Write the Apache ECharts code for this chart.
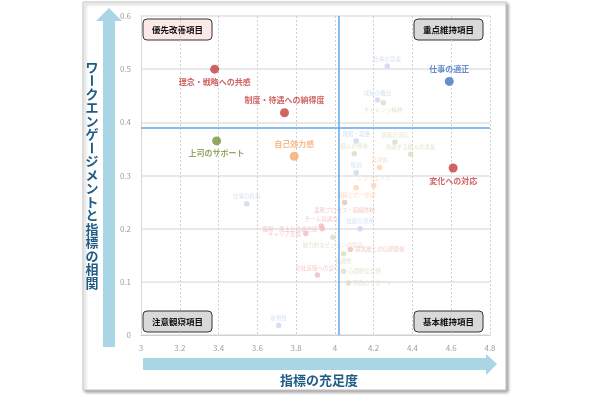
<!DOCTYPE html>
<html>
<head>
<meta charset="utf-8">
<script src="https://cdn.jsdelivr.net/npm/echarts@6/dist/echarts.min.js"></script>
<style>
  html, body { margin: 0; padding: 0; background: #fff; }
  #chart { width: 610px; height: 396px; }
</style>
</head>
<body>
<div id="chart"></div>
<script>
// 指標データ（充足度, 相関）
const names = [
  '理念・戦略への共感', '制度・待遇への納得度', '上司のサポート', '自己効力感', '仕事の適正', '変化への対応',
  '仕事の意義', '成長の機会', 'チャレンジ精神', '権限・裁量', '個人の尊重', '部署の活気',
  '共感する個人の成長', '役割', '自律性', 'レジリエンス', '組織との一体感', '業務プロセス・組織体制',
  '技能の活用', 'チーム協調力', '職場・風土との適合感', 'キャリア形成', '魅力的なビジョンの提示',
  '経営層との信頼関係', '協調性', '心理的安全性', '同僚のサポート', '会社基盤への安心', '仕事の負担', '新規性'
];
const fulfillment = [
  3.38, 3.74, 3.39, 3.79, 4.59, 4.61,
  4.27, 4.22, 4.25, 4.11, 4.10, 4.31,
  4.39, 4.11, 4.23, 4.20, 4.11, 4.05,
  4.13, 3.93, 3.935, 3.85, 3.99,
  4.08, 4.045, 4.045, 4.07, 3.91, 3.545, 3.71
];
const correlation = [
  0.500, 0.418, 0.365, 0.336, 0.477, 0.314,
  0.506, 0.442, 0.437, 0.365, 0.341, 0.363,
  0.340, 0.305, 0.315, 0.281, 0.277, 0.249,
  0.200, 0.205, 0.200, 0.191, 0.184,
  0.161, 0.153, 0.120, 0.098, 0.113, 0.247, 0.018
];
// 区分: 組織 / 仕事 / 上司 / 個人
const groups = [
  '組織', '組織', '上司', '個人', '仕事', '組織',
  '仕事', '仕事', '上司', '仕事', '上司', '上司',
  '上司', '仕事', '個人', '個人', '個人', '組織',
  '仕事', '組織', '組織', '組織', '上司',
  '組織', '上司', '上司', '上司', '組織', '仕事', '仕事'
];
const highlighted = ['理念・戦略への共感', '制度・待遇への納得度', '上司のサポート', '自己効力感', '仕事の適正', '変化への対応'];
const meanX = [4.02];
const meanY = [0.385];
const xTicks = { min: 3, max: 4.8, step: 0.2 };
const yTicks = { min: 0, max: 0.6, step: 0.1 };
const quadrantLabels = ['優先改善項目', '重点維持項目', '注意観察項目', '基本維持項目'];
const xTitle = '指標の充足度';
const yTitle = 'ワークエンゲージメントと指標の相関';

// スタイル
const FONT = '"Noto Sans CJK JP", "Noto Sans", sans-serif';
const TITLE_COLOR = '#1f5c85';
const ARROW_COLOR = '#a9d6e5';
const strongColor = { '組織': '#c43c3c', '仕事': '#4472c4', '上司': '#76923c', '個人': '#f7a86a' };
const fadedColor = { '組織': '#f1bcbc', '仕事': '#c9d7ef', '上司': '#d8e0c2', '個人': '#fcd3b4' };
const labelPos = {
  '理念・戦略への共感': 'bottom', '制度・待遇への納得度': 'top', '上司のサポート': 'bottom',
  '自己効力感': 'top', '仕事の適正': 'top', '変化への対応': 'bottom',
  'チャレンジ精神': 'bottom', '組織との一体感': 'bottom', '業務プロセス・組織体制': 'bottom',
  '職場・風土との適合感': 'left', 'キャリア形成': 'left', '魅力的なビジョンの提示': 'bottom',
  '経営層との信頼関係': 'right', '協調性': 'bottom', '心理的安全性': 'right', '同僚のサポート': 'right'
};

const mainData = [];
const subData = [];
names.forEach((n, i) => {
  const strong = highlighted.includes(n);
  const c = strong ? strongColor[groups[i]] : fadedColor[groups[i]];
  const item = {
    name: n,
    value: [fulfillment[i], correlation[i]],
    itemStyle: { color: c },
    label: {
      show: true,
      formatter: '{b}',
      position: labelPos[n] || 'top',
      distance: strong ? 4 : 2,
      color: c,
      fontFamily: FONT,
      fontSize: strong ? 8 : 5.5,
      fontWeight: strong ? 'bold' : 'normal',
      offset: n === '協調性' ? [5, 0] : [0, 0]
    }
  };
  (strong ? mainData : subData).push(item);
});

// 縦書きタイトル（長音は回転）
const yTitleChars = Array.from(yTitle).map((ch, i) => ({
  type: 'text',
  x: 92,
  y: 67 + i * 13.5,
  rotation: ch === 'ー' ? -Math.PI / 2 : 0,
  style: { text: ch, font: 'bold 13px ' + FONT, fill: TITLE_COLOR, align: 'center', verticalAlign: 'middle' },
  z: 10
}));

const boxPos = [[143, 19], [414, 19], [143, 311], [414, 311]];
const boxFill = ['#fde8e8', '#d9d9d9', '#d9d9d9', '#d9d9d9'];
const quadrantBoxes = quadrantLabels.map((t, i) => ({
  type: 'group',
  x: boxPos[i][0],
  y: boxPos[i][1],
  z: 20,
  children: [
    { type: 'rect', shape: { x: 0, y: 0, width: 69, height: 21, r: 4 },
      style: { fill: boxFill[i], stroke: '#333', lineWidth: 1 } },
    { type: 'text', x: 34.5, y: 10.5,
      style: { text: t, font: 'bold 8.5px ' + FONT, fill: '#111', align: 'center', verticalAlign: 'middle' } }
  ]
}));

const chart = echarts.init(document.getElementById('chart'));
chart.setOption({
  backgroundColor: '#fff',
  animation: false,
  grid: { left: 141, right: 120, top: 16, bottom: 61 },
  xAxis: {
    type: 'value', min: xTicks.min, max: xTicks.max, interval: xTicks.step,
    axisLine: { show: true, onZero: false, lineStyle: { color: '#cfcfcf' } },
    axisTick: { show: false },
    axisLabel: { color: '#a0a0a0', fontSize: 8, fontFamily: FONT, margin: 9 },
    splitLine: { show: true, lineStyle: { color: '#d0d0d0', type: [2, 2], width: 1 } }
  },
  yAxis: {
    type: 'value', min: yTicks.min, max: yTicks.max, interval: yTicks.step,
    axisLine: { show: true, lineStyle: { color: '#d6d6d6' } },
    axisTick: { show: false },
    axisLabel: { color: '#a0a0a0', fontSize: 8, fontFamily: FONT, margin: 10 },
    splitLine: { show: true, lineStyle: { color: '#e2e2e2', width: 1.5 } }
  },
  graphic: [
    { type: 'rect', z: 0, shape: { x: 83, y: 2, width: 423, height: 388 },
      style: { fill: '#fff', stroke: '#c4c4c4', lineWidth: 1, shadowBlur: 3, shadowOffsetX: 2, shadowOffsetY: 2, shadowColor: 'rgba(0,0,0,0.35)' } },
    { type: 'polygon', z: 5, shape: { points: [[103, 347], [115, 347], [115, 21], [122, 21], [109, 8], [96, 21], [103, 21]] },
      style: { fill: ARROW_COLOR } },
    { type: 'polygon', z: 5, shape: { points: [[143, 358], [486, 358], [486, 354], [497, 364], [486, 375], [486, 370], [143, 370]] },
      style: { fill: ARROW_COLOR } },
    { type: 'text', z: 10, x: 319, y: 380,
      style: { text: xTitle, font: 'bold 13px ' + FONT, fill: TITLE_COLOR, align: 'center', verticalAlign: 'middle' } },
    ...yTitleChars,
    ...quadrantBoxes
  ],
  series: [
    { type: 'scatter', z: 2, symbolSize: 5.5, data: subData, labelLayout: { hideOverlap: false } },
    {
      type: 'scatter', z: 4, symbolSize: 0, data: [],
      markLine: {
        silent: true, symbol: 'none', label: { show: false },
        lineStyle: { color: '#64a6e8', width: 1.5, type: 'solid' },
        data: [{ xAxis: meanX[0] }, { yAxis: meanY[0] }]
      }
    },
    { type: 'scatter', z: 5, symbolSize: 9, data: mainData }
  ]
});
</script>
</body>
</html>
